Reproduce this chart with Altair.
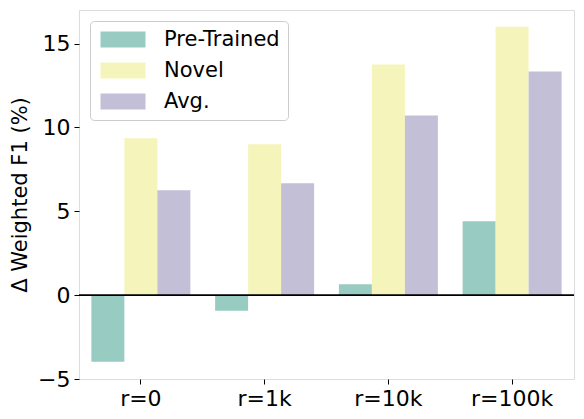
import altair as alt
import pandas as pd

categories = ["r=0", "r=1k", "r=10k", "r=100k"]
series = ["Pre-Trained", "Novel", "Avg."]
pretrained = [-3.97, -0.93, 0.65, 4.4]
novel = [9.35, 9.0, 13.75, 16.0]
avg = [6.25, 6.67, 10.71, 13.33]
colors = ["#98cbc1", "#f5f5bb", "#c2bfd6"]

rows = []
for name, vals in zip(series, [pretrained, novel, avg]):
    for c, v in zip(categories, vals):
        rows.append({"r": c, "series": name, "value": v})
df = pd.DataFrame(rows)

FONT = "DejaVu Sans"
legend_shape = "M-1,-1H4.625V1H-1Z"

bars = alt.Chart(df).mark_bar().encode(
    x=alt.X("r:N", sort=categories,
            scale=alt.Scale(paddingInner=0.2, paddingOuter=0.1),
            axis=alt.Axis(title=None, labelAngle=0, labelFontSize=22, labelFont=FONT,
                          labelColor="black", tickColor="black", tickSize=5,
                          labelPadding=4, domain=False, grid=False)),
    xOffset=alt.XOffset("series:N", sort=series,
                        scale=alt.Scale(paddingInner=0, paddingOuter=0)),
    y=alt.Y("value:Q",
            scale=alt.Scale(domain=[-5, 17], nice=False, zero=False),
            axis=alt.Axis(values=[-5, 0, 5, 10, 15], format="d", title="Δ Weighted F1 (%)",
                          titleFontSize=21, titleFont=FONT, titleFontWeight="normal",
                          titleColor="black", titleX=-59, titleBaseline="middle",
                          labelFontSize=22, labelFont=FONT, labelColor="black",
                          tickColor="black", tickSize=5, labelPadding=4,
                          domain=False, grid=False)),
    color=alt.Color("series:N", sort=series,
                    scale=alt.Scale(domain=series, range=colors),
                    legend=alt.Legend(title=None, orient="top-left", offset=11,
                                      symbolType=legend_shape, symbolSize=256,
                                      symbolStrokeWidth=0, symbolOpacity=1,
                                      labelFontSize=21, labelFont=FONT, labelColor="black",
                                      labelOffset=45, rowPadding=9, padding=8,
                                      strokeColor="#cccccc", cornerRadius=4,
                                      fillColor="rgba(255,255,255,0.8)")),
)

zero = alt.Chart(pd.DataFrame({"y": [0]})).mark_rule(color="black", strokeWidth=1.6).encode(
    y=alt.Y("y:Q")
)

chart = alt.layer(bars, zero).properties(
    width=495, height=369,
    autosize=alt.AutoSizeParams(type="none"),
    padding={"left": 71, "top": 2, "right": 2, "bottom": 40},
).configure_view(stroke="black", strokeWidth=1.1).configure(background="white")

chart.save("out.html", embed_options={"renderer": "svg", "actions": False})
